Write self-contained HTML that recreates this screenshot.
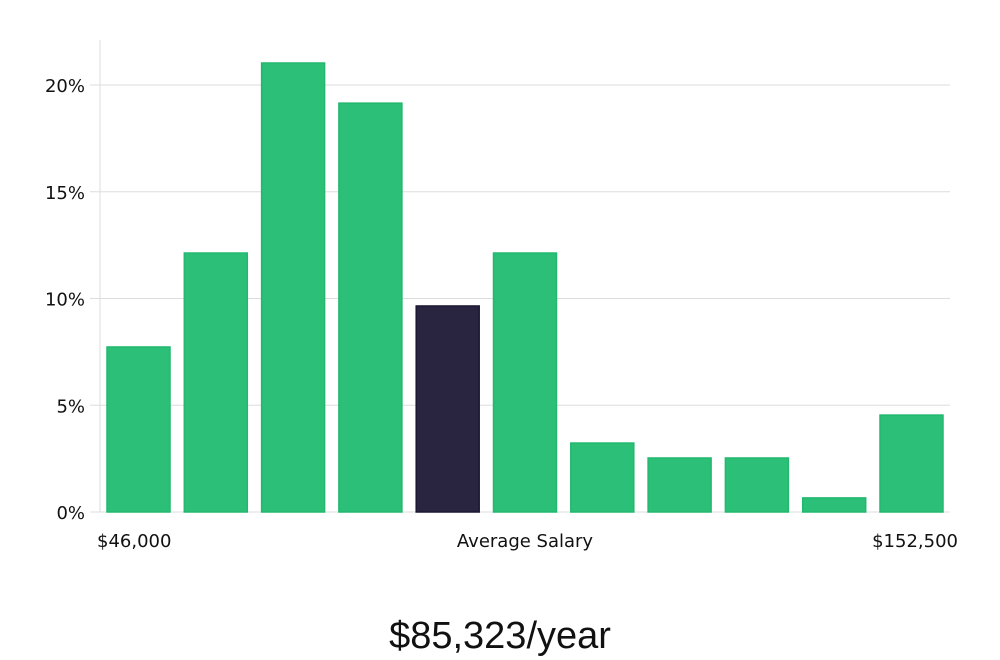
<!DOCTYPE html>
<html><head><meta charset="utf-8">
<style>
html,body{margin:0;padding:0;background:#fff;width:1000px;height:660px;overflow:hidden}
svg text{font-family:"DejaVu Sans","Liberation Sans",sans-serif;fill:#111}
</style></head>
<body>
<svg id="chart" width="1000" height="660" viewBox="0 0 1000 660" xmlns="http://www.w3.org/2000/svg">
<g id="grid"></g>
<line x1="100" y1="40" x2="100" y2="512" stroke="#ddd" stroke-width="1"/>
<g id="yticks"></g>
<g id="bars"></g>
<text x="97" y="547" font-size="18">$46,000</text>
<text x="525" y="547" font-size="18" text-anchor="middle">Average Salary</text>
<text x="958" y="547" font-size="18" text-anchor="end">$152,500</text>
<text x="500" y="648" font-size="38" text-anchor="middle" style="font-family:'Liberation Sans',sans-serif;font-weight:300;fill:#111">$85,323/year</text>
</svg>
<script>
const values = [7.73, 12.13, 21.03, 19.15, 9.65, 12.13, 3.23, 2.53, 2.53, 0.66, 4.54];
const highlightIndex = 4;
const yTicks = [0, 5, 10, 15, 20];
const yTickLabels = ["0%", "5%", "10%", "15%", "20%"];

const NS = "http://www.w3.org/2000/svg";
const y0 = 512, pxPerPct = 21.35;
const yScale = v => y0 - v * pxPerPct;
const xStart = 107, step = 77.3, barW = 63;
const xScale = i => xStart + i * step;

const grid = document.getElementById('grid');
const yt = document.getElementById('yticks');
yTicks.forEach((t, i) => {
  const y = yScale(t);
  const l = document.createElementNS(NS, 'line');
  
  
  l.setAttribute('x1', 90); l.setAttribute('x2', 950);
  l.setAttribute('y1', y); l.setAttribute('y2', y);
  l.setAttribute('stroke', '#ddd'); l.setAttribute('stroke-width', '1');
  grid.appendChild(l);
  const tx = document.createElementNS(NS, 'text');
  
  
  tx.setAttribute('x', 85); tx.setAttribute('y', y + 7);
  tx.setAttribute('font-size', '18'); tx.setAttribute('text-anchor', 'end');
  tx.textContent = yTickLabels[i];
  yt.appendChild(tx);
});

const bars = document.getElementById('bars');
values.forEach((v, i) => {
  const r = document.createElementNS(NS, 'rect');
  
  
  const top = yScale(v);
  r.setAttribute('x', xScale(i)); r.setAttribute('y', top);
  r.setAttribute('width', barW); r.setAttribute('height', y0 - top);
  r.setAttribute('fill', i === highlightIndex ? '#29243f' : '#2bbf78');
  r.setAttribute('stroke', i === highlightIndex ? '#1c1832' : '#22b86e');
  r.setAttribute('stroke-width', '1.5');
  bars.appendChild(r);
});
</script>
</body></html>
